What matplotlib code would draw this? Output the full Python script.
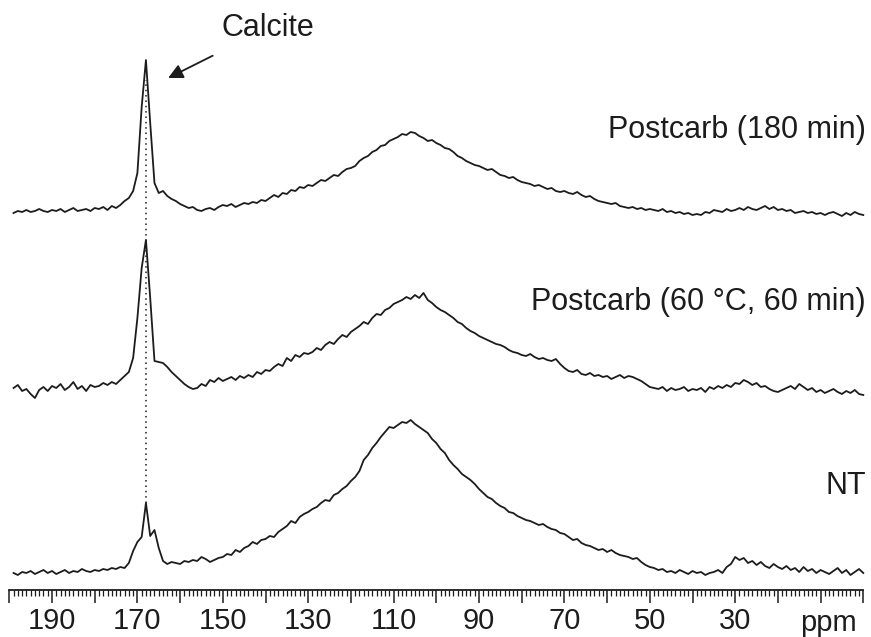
import numpy as np
import matplotlib.pyplot as plt
from matplotlib.ticker import FixedLocator, MultipleLocator, FixedFormatter

plt.rcParams['font.family'] = ['Liberation Sans', 'DejaVu Sans']

# chemical shift axis, 199 ... 0 ppm in 1 ppm steps
ppm = np.arange(199, -1, -1)

# intensities (arbitrary units, relative to each baseline)
postcarb_180 = [
    0, 2, 1, 3, 1, 2, 4, 2, 1, 3,           # 199-190
    2, 4, 1, 3, 5, 2, 3, 4, 2, 5,           # 189-180
    4, 6, 3, 7, 5, 8, 12, 15, 22, 40,       # 179-170
    106, 153, 90, 30, 20, 22, 17, 14, 12, 9,  # 169-160
    7, 5, 6, 3, 2, 4, 5, 3, 6, 8,
    7, 9, 6, 8, 10, 9, 11, 10, 13, 12,
    15, 18, 16, 20, 19, 23, 22, 26, 25, 28,
    27, 30, 33, 32, 35, 38, 37, 41, 44, 45,
    47, 52, 55, 57, 61, 63, 67, 68, 72, 74,
    76, 79, 78, 81, 80, 77, 75, 72, 73, 70,
    68, 65, 64, 61, 57, 55, 52, 50, 48, 47,
    45, 43, 44, 41, 38, 37, 35, 36, 33, 31,
    30, 29, 27, 28, 26, 24, 25, 22, 21, 22,
    20, 19, 21, 18, 16, 17, 14, 12, 11, 10,
    9, 10, 7, 6, 5, 6, 4, 5, 3, 4,
    3, 2, 4, 1, 2, 0, 1, -1, 0, -2,
    -1, -2, 1, 0, 3, 2, 1, 4, 2, 3,
    5, 3, 6, 4, 3, 5, 7, 4, 6, 3,
    4, 2, 3, 0, 1, 2, 0, 1, -1, 0,
    -2, 0, 1, -1, -3, 0, -2, 1, -1, -2,
]

postcarb_60 = [
    0, 3, -3, -1, -6, -10, -2, 1, -3, 2,
    0, 4, -2, 1, 6, -1, 2, -3, 3, 1,
    2, 5, 3, 6, 4, 8, 12, 16, 30, 70,
    120, 148, 90, 27, 26, 25, 21, 16, 12, 8,
    4, 1, -1, 0, 4, 2, 8, 6, 10, 7,
    9, 11, 8, 12, 10, 13, 11, 16, 14, 18,
    17, 21, 24, 22, 30, 27, 33, 31, 35, 34,
    36, 40, 38, 43, 46, 44, 49, 53, 51, 56,
    59, 62, 66, 64, 70, 74, 73, 78, 80, 84,
    86, 88, 91, 89, 93, 90, 95, 88, 85, 81,
    78, 76, 73, 70, 66, 64, 60, 57, 55, 52,
    50, 48, 46, 44, 43, 41, 38, 36, 35, 33,
    32, 34, 31, 29, 30, 28, 27, 29, 24, 20,
    17, 16, 18, 14, 13, 15, 12, 13, 11, 12,
    9, 11, 13, 10, 12, 11, 9, 7, 4, 1,
    0, -1, 1, -3, 0, -2, -1, 1, -3, -1,
    -2, 0, -4, 1, -1, 2, 0, 3, 1, 5,
    4, 8, 6, 3, 5, 1, 2, -1, -3, -4,
    -2, 0, 2, -1, 4, 1, -2, 0, -4, -2,
    -5, -3, -1, -4, -6, -3, -5, -2, -6, -7,
]

nt = [
    0, -2, 1, 0, 2, -1, 1, 3, 0, 2,
    -1, 1, 3, 0, 2, 1, 4, 2, 1, 3,
    2, 4, 3, 5, 4, 6, 5, 10, 22, 31,
    36, 70, 37, 43, 25, 12, 9, 11, 10, 9,
    12, 11, 13, 12, 16, 14, 11, 13, 15, 16,
    19, 18, 23, 21, 25, 27, 31, 29, 33, 34,
    37, 36, 41, 44, 47, 52, 50, 56, 59, 61,
    64, 66, 70, 73, 72, 78, 80, 84, 87, 92,
    96, 102, 113, 118, 125, 130, 136, 141, 146, 145,
    148, 151, 150, 153, 149, 146, 143, 140, 134, 130,
    124, 120, 113, 108, 104, 99, 96, 93, 89, 84,
    80, 76, 74, 70, 67, 65, 61, 60, 57, 55,
    53, 52, 50, 48, 49, 46, 44, 43, 40, 39,
    36, 33, 34, 30, 28, 27, 25, 23, 24, 21,
    23, 20, 18, 17, 16, 14, 15, 11, 8, 6,
    5, 3, 4, 1, 2, 0, 3, 1, -1, 2,
    0, 1, -2, 0, 1, 3, 0, 6, 9, 16,
    13, 15, 10, 12, 8, 11, 7, 5, 9, 6,
    4, 7, 3, 5, 1, 6, 2, 4, 0, 3,
    1, -1, 2, 5, 0, 3, -2, 1, 4, 0,
]

labels = ['Postcarb (180 min)', 'Postcarb (60 \u00b0C, 60 min)', 'NT']
CALCITE_PPM = 168

# stacking offsets
offsets = [377, 202, 17]
label_y = [460, 288, 104]

W, H = 871, 637
fig = plt.figure(figsize=(W / 100, H / 100), dpi=100)
ax = fig.add_axes([9.3 / W, 47 / H, 854 / W, 590 / H])

color = '#1c1c1c'
for spec, off, lab, ly in zip([postcarb_180, postcarb_60, nt], offsets, labels, label_y):
    ax.plot(ppm, np.array(spec) + off, color=color, lw=1.3, clip_on=False)
    ax.text(-0.6, ly, lab, ha='right', va='center', fontsize=22, color=color, clip_on=False)

# dotted guide through the calcite peak
i = list(ppm).index(CALCITE_PPM)
ax.vlines(CALCITE_PPM, nt[i] + offsets[2], postcarb_180[i] + offsets[0] - 20,
          colors=color, linestyles=(0, (1, 2.5)), lw=1.1)

ax.annotate('Calcite', xy=(162.8, 512), xytext=(139.4, 562),
            ha='center', va='center', fontsize=22, color=color,
            arrowprops=dict(arrowstyle='-|>', color=color, lw=1.3,
                            mutation_scale=22, shrinkA=16, shrinkB=0))

ax.set_xlim(200, 0)
ax.set_ylim(0, 590)
for s in ['left', 'right', 'top']:
    ax.spines[s].set_visible(False)
ax.spines['bottom'].set_linewidth(1.3)
ax.spines['bottom'].set_color(color)
ax.set_yticks([])

major = list(range(200, -1, -10))
ax.xaxis.set_major_locator(FixedLocator(major))
ax.xaxis.set_major_formatter(FixedFormatter(
    [str(v) if v % 20 == 10 and v > 10 else '' for v in major]))
ax.xaxis.set_minor_locator(MultipleLocator(1))
ax.tick_params(axis='x', which='major', length=9, width=1.1, pad=3,
               labelsize=21, colors=color)
ax.tick_params(axis='x', which='minor', length=4.5, width=0.9, colors=color)

ax.text(1.5, -33, 'ppm', ha='right', va='center', fontsize=21, color=color, clip_on=False)

fig.savefig('out.png', dpi=100)
